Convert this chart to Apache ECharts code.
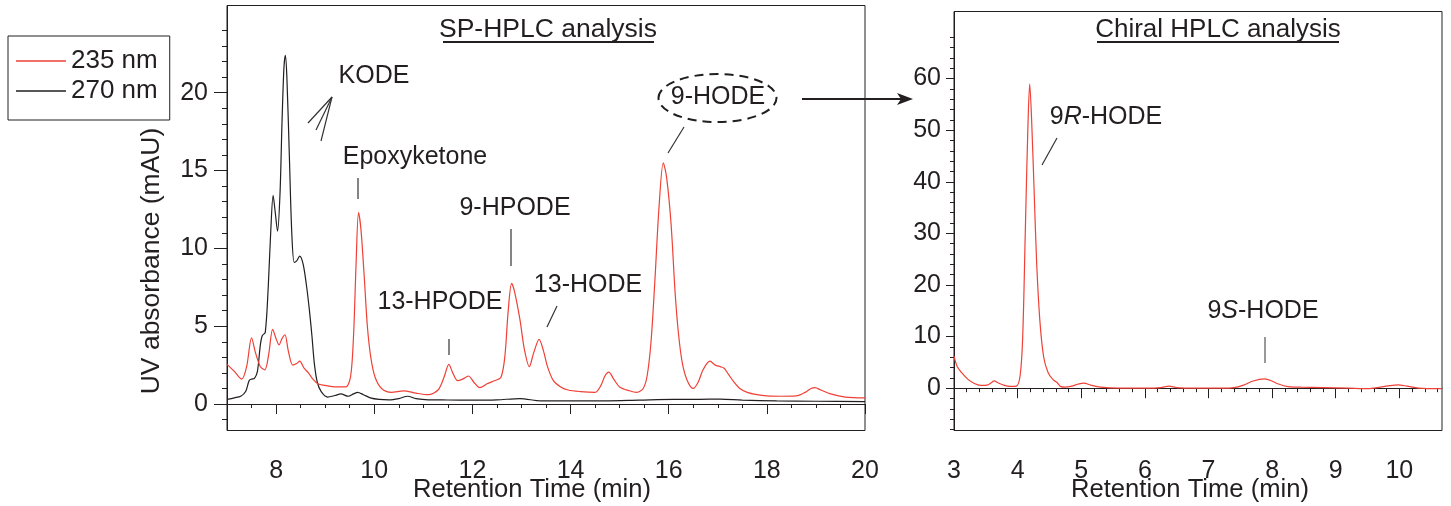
<!DOCTYPE html>
<html>
<head>
<meta charset="utf-8">
<script src="https://cdn.jsdelivr.net/npm/echarts@6/dist/echarts.min.js"></script>
<style>
html,body{margin:0;padding:0;background:#fff;}
#c{width:1451px;height:506px;}
</style>
</head>
<body>
<div id="c"></div>
<script>
// ---------- DATA ----------
// SP-HPLC, 235 nm trace
const sp235X = [7.00,7.15,7.30,7.40,7.50,7.58,7.68,7.77,7.85,7.93,8.00,8.06,8.12,8.18,8.25,8.34,8.42,8.48,8.57,8.66,8.75,8.85,9.00,9.20,9.42,9.52,9.58,9.63,9.68,9.73,9.80,9.86,9.93,10.02,10.15,10.35,10.60,10.85,11.10,11.30,11.42,11.52,11.60,11.70,11.80,11.92,12.03,12.15,12.30,12.45,12.58,12.66,12.73,12.80,12.86,12.97,13.06,13.16,13.25,13.36,13.45,13.53,13.65,13.80,13.95,14.20,14.50,14.62,14.70,14.78,14.88,15.00,15.20,15.35,15.48,15.56,15.64,15.72,15.80,15.89,15.96,16.05,16.13,16.20,16.28,16.38,16.50,16.60,16.70,16.84,16.95,17.05,17.13,17.22,17.32,17.45,17.60,17.80,18.00,18.30,18.60,18.78,18.90,18.98,19.10,19.30,19.60,20.00];
const sp235Y = [2.55,2.1,1.6,2.4,4.25,3.3,2.4,2.2,3.2,4.8,4.2,3.8,4.2,4.45,3.4,2.5,2.6,2.75,2.3,2.0,1.6,1.3,1.2,1.1,1.1,1.8,4.5,9.0,12.3,11.2,8.0,5.0,3.0,1.7,1.0,0.75,0.85,0.7,0.6,0.9,1.7,2.55,2.0,1.5,1.6,1.8,1.4,1.05,1.3,1.5,1.7,3.0,6.0,7.75,7.2,5.4,3.5,2.4,3.3,4.15,3.4,2.4,1.5,1.1,0.9,0.8,0.75,1.2,1.8,2.05,1.6,1.1,0.85,0.75,1.0,1.8,4.0,8.0,12.5,15.5,14.5,11.5,7.2,4.5,2.6,1.5,1.0,1.4,2.2,2.75,2.5,2.4,2.3,1.9,1.45,1.0,0.75,0.6,0.52,0.5,0.52,0.75,1.0,1.05,0.9,0.65,0.45,0.4];
// SP-HPLC, 270 nm trace
const sp270X = [7.00,7.15,7.28,7.38,7.45,7.50,7.56,7.62,7.68,7.72,7.78,7.84,7.89,7.94,7.98,8.03,8.08,8.12,8.16,8.19,8.22,8.27,8.32,8.37,8.42,8.48,8.55,8.62,8.68,8.73,8.78,8.84,8.92,9.05,9.20,9.32,9.47,9.58,9.66,9.78,9.92,10.10,10.30,10.50,10.68,10.85,11.10,11.50,12.00,12.50,12.97,13.40,14.00,14.70,15.40,16.10,16.60,17.05,17.50,18.20,19.00,20.00];
const sp270Y = [0.3,0.4,0.5,0.8,1.5,1.6,1.65,2.1,3.8,4.4,4.6,7.5,11.0,13.4,12.4,11.1,13.5,18.0,21.6,22.4,21.0,16.0,11.0,9.1,9.2,9.5,9.0,7.6,6.0,4.4,2.6,1.4,0.8,0.45,0.55,0.65,0.5,0.65,0.75,0.6,0.4,0.3,0.27,0.35,0.5,0.35,0.27,0.26,0.25,0.27,0.35,0.2,0.2,0.2,0.25,0.3,0.3,0.32,0.25,0.2,0.18,0.15];
// Chiral HPLC, 235 nm trace
const chX = [3.00,3.05,3.12,3.22,3.32,3.42,3.52,3.58,3.63,3.70,3.78,3.88,3.98,4.04,4.08,4.12,4.16,4.19,4.22,4.26,4.30,4.35,4.41,4.48,4.56,4.62,4.68,4.75,4.85,4.95,5.04,5.15,5.30,5.60,6.00,6.25,6.38,6.50,6.80,7.20,7.40,7.55,7.70,7.88,7.98,8.10,8.25,8.45,8.80,9.20,9.50,9.70,9.85,9.98,10.12,10.30,10.67];
const chY = [6.2,4.2,3.0,1.7,0.9,0.55,0.6,1.0,1.4,1.0,0.6,0.35,0.4,2.5,10,30,50,59,52,38,24,13,6,3,1.6,1.1,0.3,0.2,0.4,0.8,1.0,0.6,0.2,0.0,0.0,0.1,0.4,0.1,0.0,0.0,0.1,0.6,1.4,1.8,1.5,0.8,0.3,0.2,0.1,0.0,-0.1,0.2,0.5,0.65,0.4,0.0,-0.1];

// tick labels
const spXTicks = [8,10,12,14,16,18,20];
const spYTicks = [0,5,10,15,20];
const chXTicks = [3,4,5,6,7,8,9,10];
const chYTicks = [0,10,20,30,40,50,60];
const seriesNames = ['235 nm','270 nm'];

// ---------- helpers ----------
function pairs(xs, ys){ return xs.map((x,i)=>[x, ys[i]]); }
function steps(a, b, s){ const out=[]; const n=Math.round((b-a)/s); for(let k=0;k<=n;k++) out.push(Math.round((a+k*s)*100)/100); return out; }

const INK = '#231f20';
const RED = '#ef4136';
const FONT = "'Liberation Sans', Arial, Helvetica, sans-serif";

function majorX(grid, min, max, ticks){
  return {gridIndex:grid, type:'value', min:min, max:max, position:'bottom',
    axisLine:{show:true, lineStyle:{color:INK, width:1}},
    axisTick:{show:true, inside:false, length:10, customValues:ticks, lineStyle:{color:INK, width:1}},
    axisLabel:{show:true, customValues:ticks, margin:28, fontSize:25, color:INK, fontFamily:FONT},
    splitLine:{show:false}};
}
function minorX(grid, min, max, ticks){
  return {gridIndex:grid, type:'value', min:min, max:max, position:'bottom',
    axisLine:{show:false},
    axisTick:{show:true, inside:false, length:4, customValues:ticks, lineStyle:{color:INK, width:1}},
    axisLabel:{show:false}, splitLine:{show:false}};
}
function majorY(grid, min, max, ticks, len, margin){
  return {gridIndex:grid, type:'value', min:min, max:max, position:'left',
    axisLine:{show:true, lineStyle:{color:INK, width:1}},
    axisTick:{show:true, inside:false, length:len, customValues:ticks, lineStyle:{color:INK, width:1}},
    axisLabel:{show:true, customValues:ticks, margin:margin, fontSize:25, color:INK, fontFamily:FONT},
    splitLine:{show:false}};
}
function minorY(grid, min, max, ticks, len){
  return {gridIndex:grid, type:'value', min:min, max:max, position:'left',
    axisLine:{show:false},
    axisTick:{show:true, inside:false, length:len, customValues:ticks, lineStyle:{color:INK, width:1}},
    axisLabel:{show:false}, splitLine:{show:false}};
}

const SP_YMIN = -1.7, SP_YMAX = 25.6;
const CH_YMIN = -8.2, CH_YMAX = 73;

const chart = echarts.init(document.getElementById('c'), null, {renderer:'canvas'});

function txt(x, y, text, size){
  return {type:'text', x:x, y:y, silent:true,
    style:{text:text, fill:INK, font:(size||25) + 'px ' + FONT, align:'center', verticalAlign:'middle'}};
}
function seg(x1,y1,x2,y2,color,w){
  return {type:'line', silent:true, shape:{x1:x1,y1:y1,x2:x2,y2:y2}, style:{stroke:color||'#333', lineWidth:w||1.2}};
}

const option = {
  animation:false,
  backgroundColor:'#fff',
  textStyle:{fontFamily:FONT, color:INK},
  legend:{
    data:seriesNames.map(n=>({name:n, icon:'rect'})), orient:'vertical', left:8, top:36,
    itemWidth:50, itemHeight:1.5, itemGap:0,
    padding:[10,12,14,8],
    borderColor:INK, borderWidth:1,
    textStyle:{fontSize:26, lineHeight:30, color:INK, fontFamily:FONT},
    selectedMode:false
  },
  grid:[
    {left:227, right:586, top:5.5, bottom:75.5, show:true, borderColor:INK, borderWidth:1, backgroundColor:'transparent'},
    {left:954, right:9, top:11.5, bottom:75.5, show:true, borderColor:INK, borderWidth:1, backgroundColor:'transparent'}
  ],
  xAxis:[
    majorX(0, 7, 20, spXTicks),
    minorX(0, 7, 20, steps(7, 20, 0.5)),
    majorX(1, 3, 10.67, chXTicks),
    minorX(1, 3, 10.67, steps(3, 10.6, 0.2))
  ],
  yAxis:[
    majorY(0, SP_YMIN, SP_YMAX, spYTicks, 13, 19),
    minorY(0, SP_YMIN, SP_YMAX, steps(-1, 24, 1), 5),
    majorY(1, CH_YMIN, CH_YMAX, chYTicks, 8, 13),
    minorY(1, CH_YMIN, CH_YMAX, steps(-8, 68, 2), 4)
  ],
  series:[
    {name:seriesNames[0], type:'line', xAxisIndex:0, yAxisIndex:0, data:pairs(sp235X, sp235Y),
     symbol:'none', smooth:0.3, lineStyle:{color:RED, width:1.2}, itemStyle:{color:RED}, z:3},
    {name:seriesNames[1], type:'line', xAxisIndex:0, yAxisIndex:0, data:pairs(sp270X, sp270Y),
     symbol:'none', smooth:0.3, lineStyle:{color:INK, width:1.2}, itemStyle:{color:INK}, z:2},
    {name:seriesNames[0], type:'line', xAxisIndex:2, yAxisIndex:2, data:pairs(chX, chY),
     symbol:'none', smooth:0.3, lineStyle:{color:RED, width:1.2}, itemStyle:{color:RED}, z:3}
  ],
  graphic:[
    // panel titles
    txt(548, 30, 'SP-HPLC analysis', 26.5),
    seg(443, 42, 654, 42, INK, 2),
    txt(1218, 30, 'Chiral HPLC analysis', 26),
    seg(1097, 42, 1339, 42, INK, 2),
    // axis titles
    txt(532, 490, 'Retention Time (min)', 25.6),
    txt(1190, 490, 'Retention Time (min)', 25.6),
    {type:'text', x:152, y:261, rotation:Math.PI/2, silent:true,
     style:{text:'UV absorbance (mAU)', fill:INK, font:'26.5px '+FONT, align:'center', verticalAlign:'middle'}},
    // peak annotations
    txt(374, 76, 'KODE'),
    seg(332, 97, 308, 123), seg(332, 97, 316, 130), seg(332, 97, 321, 141),
    txt(415, 157, 'Epoxyketone'),
    seg(358, 178, 358, 199),
    txt(515, 208, '9-HPODE'),
    seg(511, 229, 511, 266),
    txt(440, 302, '13-HPODE'),
    seg(449, 339, 449, 355),
    txt(588, 285, '13-HODE'),
    seg(557, 306, 547, 327),
    txt(718, 97, '9-HODE'),
    {type:'ellipse', silent:true, shape:{cx:717.5, cy:98, rx:59, ry:24},
     style:{fill:null, stroke:INK, lineWidth:2, lineDash:[9,6]}},
    seg(684, 127, 668, 153),
    // arrow
    seg(802, 99, 903, 99, INK, 2),
    {type:'polygon', silent:true, shape:{points:[[913,99],[897,93],[901,99],[897,105]]}, style:{fill:INK}},
    // chiral annotations
    {type:'text', x:1106, y:117, silent:true,
     style:{text:'9{i|R}-HODE', fill:INK, font:'25px '+FONT, align:'center', verticalAlign:'middle',
            rich:{i:{fontStyle:'italic', fontSize:25, fontFamily:FONT, fill:INK}}}},
    seg(1057, 138, 1042, 165),
    {type:'text', x:1263, y:311, silent:true,
     style:{text:'9{i|S}-HODE', fill:INK, font:'25px '+FONT, align:'center', verticalAlign:'middle',
            rich:{i:{fontStyle:'italic', fontSize:25, fontFamily:FONT, fill:INK}}}},
    seg(1265, 337, 1265, 363, '#555')
  ]
};
chart.setOption(option);
</script>
</body>
</html>
